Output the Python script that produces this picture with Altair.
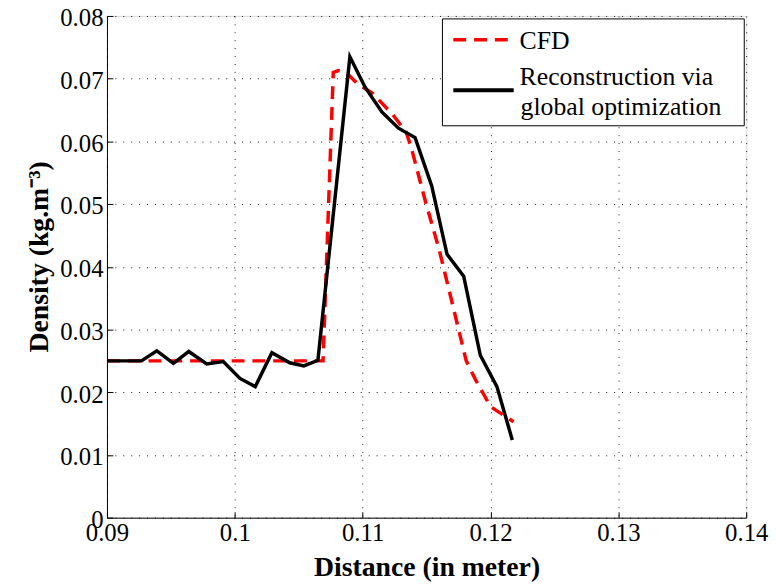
import altair as alt
import pandas as pd

# ---- data ----
cfd_x = [0.0900, 0.1069, 0.1077, 0.1081, 0.1087, 0.1096, 0.1108, 0.1123, 0.1134, 0.1138,
         0.1149, 0.1160, 0.1171, 0.1181, 0.1188, 0.1200, 0.1218]
cfd_y = [0.0250, 0.0250, 0.0710, 0.0713, 0.0710, 0.0692, 0.0676, 0.0644, 0.0615, 0.0590,
         0.0505, 0.0426, 0.0334, 0.0250, 0.0221, 0.0177, 0.0153]

rec_x = [0.0900, 0.0913, 0.0927, 0.0939, 0.0952, 0.0964, 0.0978, 0.0991, 0.1004, 0.1016,
         0.1029, 0.1043, 0.1054, 0.1065, 0.1090, 0.1102, 0.1115, 0.1128, 0.1141, 0.1154,
         0.1166, 0.1179, 0.1192, 0.1205, 0.1217]
rec_y = [0.0250, 0.0250, 0.0250, 0.0266, 0.0246, 0.0265, 0.0245, 0.0249, 0.0222, 0.0209,
         0.0263, 0.0247, 0.0242, 0.0251, 0.0735, 0.0686, 0.0647, 0.0621, 0.0606, 0.0529,
         0.0420, 0.0385, 0.0259, 0.0209, 0.0124]

x_ticks = [0.09, 0.10, 0.11, 0.12, 0.13, 0.14]
y_ticks = [0, 0.01, 0.02, 0.03, 0.04, 0.05, 0.06, 0.07, 0.08]

legend_labels = ["CFD", "Reconstruction via", "\u00a0global optimization"]

cfd = pd.DataFrame({"x": cfd_x, "y": cfd_y})
rec = pd.DataFrame({"x": rec_x, "y": rec_y})
one = pd.DataFrame({"a": [0]})

W, H = 646, 507
FONT = "Liberation Serif"

xs = alt.Scale(domain=[0.09, 0.14], nice=False, zero=False)
ys = alt.Scale(domain=[0, 0.08], nice=False, zero=False)

x_axis = alt.Axis(values=x_ticks, format="~g", title="Distance (in meter)", orient="bottom",
                  grid=True, gridDash=[1, 7], gridColor="black", gridOpacity=0.9,
                  domainColor="black", domainWidth=1, tickSize=0, labelFlush=False,
                  labelFont=FONT, labelFontSize=25, labelColor="black", labelPadding=3,
                  titleFont=FONT, titleFontSize=28, titleFontWeight="bold", titleColor="black",
                  titleBaseline="alphabetic", titleY=58)
y_axis = alt.Axis(values=y_ticks, format="~g", title="Density (kg.m⁻³)", orient="left",
                  grid=True, gridDash=[1, 7], gridColor="black", gridOpacity=0.9,
                  domainColor="black", domainWidth=1, tickSize=0, labelFlush=False,
                  labelOffset=2,
                  labelFont=FONT, labelFontSize=25, labelColor="black", labelPadding=4,
                  titleFont=FONT, titleFontSize=28, titleFontWeight="bold", titleColor="black",
                  titleAngle=270, titleAlign="center", titleBaseline="middle",
                  titleX=-68, titleY=243)

# inward major ticks drawn by extra axes placed on the plot edges
x_in = alt.Axis(values=x_ticks, orient="top", offset=-H, labels=False, title=None,
                grid=False, domain=False, tickSize=6, tickColor="black", tickWidth=1)
y_in = alt.Axis(values=y_ticks, orient="right", offset=-W, labels=False, title=None,
                grid=False, domain=False, tickSize=6, tickColor="black", tickWidth=1)

cfd_line = alt.Chart(cfd).mark_line(color="#ff0000", strokeWidth=3.5, strokeDash=[13, 8]).encode(
    x=alt.X("x:Q", scale=xs, axis=x_axis),
    y=alt.Y("y:Q", scale=ys, axis=y_axis),
)
rec_line = alt.Chart(rec).mark_line(color="black", strokeWidth=3.5).encode(
    x=alt.X("x:Q", scale=xs, axis=x_in),
    y=alt.Y("y:Q", scale=ys, axis=y_in),
)

# ---- legend (decoration) ----
leg_box = alt.Chart(one).mark_rect(fill="white", stroke="black", strokeWidth=1).encode(
    x=alt.value(339), x2=alt.value(644), y=alt.value(3), y2=alt.value(111))
leg_red = alt.Chart(one).mark_rule(color="#ff0000", strokeWidth=3.5, strokeDash=[13, 8]).encode(
    x=alt.value(350), x2=alt.value(411), y=alt.value(24))
leg_blk = alt.Chart(one).mark_rule(color="black", strokeWidth=4).encode(
    x=alt.value(350), x2=alt.value(411), y=alt.value(75))
txt_kw = dict(font=FONT, fontSize=26, color="black", align="left", baseline="middle")
leg_t1 = alt.Chart(one).mark_text(**txt_kw).encode(
    x=alt.value(417), y=alt.value(25), text=alt.value(legend_labels[0]))
leg_t2 = alt.Chart(one).mark_text(**txt_kw).encode(
    x=alt.value(417), y=alt.value(62), text=alt.value(legend_labels[1]))
leg_t3 = alt.Chart(one).mark_text(**txt_kw).encode(
    x=alt.value(418), y=alt.value(92), text=alt.value(legend_labels[2]))

chart = alt.layer(
    cfd_line, rec_line, leg_box, leg_red, leg_blk, leg_t1, leg_t2, leg_t3
).resolve_axis(x="independent", y="independent").properties(
    width=W, height=H,
    autosize=alt.AutoSizeParams(type="none"),
    padding={"left": 100, "top": 5, "right": 23, "bottom": 64},
).configure_view(stroke=None).configure(
    background="white", font=FONT
).configure_axis(labelFont=FONT, titleFont=FONT)

chart.save("out.html", embed_options={"renderer": "svg", "actions": False})
